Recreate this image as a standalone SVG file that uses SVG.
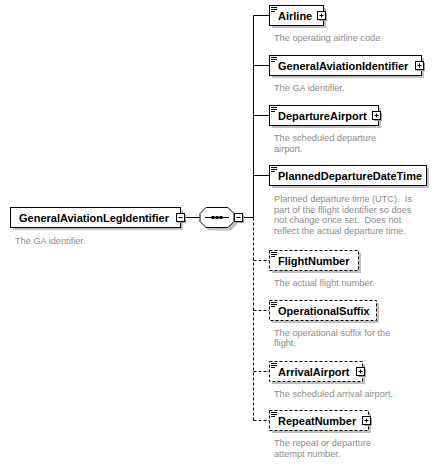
<svg xmlns="http://www.w3.org/2000/svg" width="443" height="464" viewBox="0 0 443 464">
<style>
.bg{fill:#fff}
.sh{fill:#c0c0c0}
.bsh{fill:#9a9a9a}
.box{fill:#fff;stroke:#000;stroke-width:1}
.opt{stroke-dasharray:3,2}
.btn{fill:#fff;stroke:#000;stroke-width:1}
.ln{fill:none;stroke:#000;stroke-width:1}
.dl{fill:none;stroke:#000;stroke-width:1;stroke-dasharray:3,2}
.lbl{font-family:"Liberation Sans",Arial,sans-serif;font-size:11px;font-weight:bold;fill:#000}
.desc{font-family:"Liberation Sans",Arial,sans-serif;font-size:9.2px;fill:#8c8c8c;white-space:pre}
</style>
<rect class="bg" x="0" y="0" width="443" height="464"/>

<g id="connectors">
  <path class="ln" d="M184.5,217.5H200"/>
  <path class="ln" d="M242.5,217.5H253.5"/>
  <path class="ln" d="M253.5,15.5V217.5"/>
  <path class="dl" d="M253.5,217.5V420.5"/>
  <path class="ln" d="M253.5,15.5H269.5M253.5,65.5H269.5M253.5,115.5H269.5M253.5,175.5H269.5"/>
  <path class="dl" d="M253.5,260.5H269.5M253.5,310.5H269.5M253.5,371.5H269.5M253.5,420.5H269.5"/>
</g>

<g id="GeneralAviationLegIdentifier">
  <rect class="sh" x="13" y="210" width="170" height="20"/>
  <rect class="box" x="10.5" y="207.5" width="170" height="20"/>
  <text class="lbl" x="19" y="222">GeneralAviationLegIdentifier</text>
  <rect class="bsh" x="178" y="215" width="8" height="8"/>
  <rect class="btn" x="176.5" y="213.5" width="8" height="8"/>
  <path class="ln" d="M178.5,217.5H182.5"/>
  <text class="desc" x="15" y="243.5">The GA identifier.</text>
</g>

<g id="sequence">
  <polygon class="sh" points="209,210.5 231,210.5 237,216.5 237,224.5 231,230.5 209,230.5 203,224.5 203,216.5"/>
  <polygon class="box" points="206,207.5 228,207.5 234,213.5 234,221.5 228,227.5 206,227.5 200,221.5 200,213.5"/>
  <path class="ln" d="M205,217.5H229"/>
  <rect x="211.5" y="216" width="3" height="3" fill="#000"/>
  <rect x="215.5" y="216" width="3" height="3" fill="#000"/>
  <rect x="219.5" y="216" width="3" height="3" fill="#000"/>
  <rect class="bsh" x="236" y="215" width="8" height="8"/>
  <rect class="btn" x="234.5" y="213.5" width="8" height="8"/>
  <path class="ln" d="M236.5,217.5H240.5"/>
</g>

<g id="Airline">
  <rect class="sh" x="272" y="8" width="54" height="20"/>
  <rect class="box" x="269.5" y="5.5" width="54" height="20"/>
  <path class="ln" d="M271,7.5H277M271,9.5H277M271,11.5H275"/>
  <text class="lbl" x="278" y="20">Airline</text>
  <rect class="bsh" x="319" y="13" width="8" height="8"/>
  <rect class="btn" x="317.5" y="11.5" width="8" height="8"/>
  <path class="ln" d="M319.5,15.5H323.5M321.5,13.5V17.5"/>
  <text class="desc" x="274" y="41">The operating airline code.</text>
</g>

<g id="GeneralAviationIdentifier">
  <rect class="sh" x="272" y="58" width="152" height="20"/>
  <rect class="box" x="269.5" y="55.5" width="152" height="20"/>
  <path class="ln" d="M271,57.5H277M271,59.5H277M271,61.5H275"/>
  <text class="lbl" x="278" y="70">GeneralAviationIdentifier</text>
  <rect class="bsh" x="417" y="63" width="8" height="8"/>
  <rect class="btn" x="415.5" y="61.5" width="8" height="8"/>
  <path class="ln" d="M417.5,65.5H421.5M419.5,63.5V67.5"/>
  <text class="desc" x="274" y="91">The GA identifier.</text>
</g>

<g id="DepartureAirport">
  <rect class="sh" x="272" y="108" width="109" height="20"/>
  <rect class="box" x="269.5" y="105.5" width="109" height="20"/>
  <path class="ln" d="M271,107.5H277M271,109.5H277M271,111.5H275"/>
  <text class="lbl" x="278" y="120">DepartureAirport</text>
  <rect class="bsh" x="374" y="113" width="8" height="8"/>
  <rect class="btn" x="372.5" y="111.5" width="8" height="8"/>
  <path class="ln" d="M374.5,115.5H378.5M376.5,113.5V117.5"/>
  <text class="desc" x="274" y="141">The scheduled departure</text>
  <text class="desc" x="274" y="151.5">airport.</text>
</g>

<g id="PlannedDepartureDateTime">
  <rect class="sh" x="272" y="168" width="157" height="20"/>
  <rect class="box" x="269.5" y="165.5" width="157" height="20"/>
  <path class="ln" d="M271,167.5H277M271,169.5H277M271,171.5H275"/>
  <text class="lbl" x="278" y="180">PlannedDepartureDateTime</text>
  <text class="desc" x="274" y="202" xml:space="preserve">Planned departure time (UTC).  Is</text>
  <text class="desc" x="274" y="212.5">part of the fllight identifier so does</text>
  <text class="desc" x="274" y="223" xml:space="preserve">not change once set.  Does not</text>
  <text class="desc" x="274" y="233.5">reflect the actual departure time.</text>
</g>

<g id="FlightNumber">
  <rect class="sh" x="272" y="253" width="89" height="20"/>
  <rect class="box opt" x="269.5" y="250.5" width="89" height="20"/>
  <path class="ln" d="M271,252.5H277M271,254.5H277M271,256.5H275"/>
  <text class="lbl" x="278" y="265">FlightNumber</text>
  <text class="desc" x="274" y="286">The actual flight number.</text>
</g>

<g id="OperationalSuffix">
  <rect class="sh" x="272" y="303" width="107" height="20"/>
  <rect class="box opt" x="269.5" y="300.5" width="107" height="20"/>
  <path class="ln" d="M271,302.5H277M271,304.5H277M271,306.5H275"/>
  <text class="lbl" x="278" y="315">OperationalSuffix</text>
  <text class="desc" x="274" y="335.5">The operational suffix for the</text>
  <text class="desc" x="274" y="346">flight.</text>
</g>

<g id="ArrivalAirport">
  <rect class="sh" x="272" y="364" width="93" height="20"/>
  <rect class="box opt" x="269.5" y="361.5" width="93" height="20"/>
  <path class="ln" d="M271,363.5H277M271,365.5H277M271,367.5H275"/>
  <text class="lbl" x="278" y="376">ArrivalAirport</text>
  <rect class="bsh" x="358" y="369" width="8" height="8"/>
  <rect class="btn" x="356.5" y="367.5" width="8" height="8"/>
  <path class="ln" d="M358.5,371.5H362.5M360.5,369.5V373.5"/>
  <text class="desc" x="274" y="397">The scheduled arrival airport.</text>
</g>

<g id="RepeatNumber">
  <rect class="sh" x="272" y="413" width="99" height="20"/>
  <rect class="box opt" x="269.5" y="410.5" width="99" height="20"/>
  <path class="ln" d="M271,412.5H277M271,414.5H277M271,416.5H275"/>
  <text class="lbl" x="278" y="425">RepeatNumber</text>
  <rect class="bsh" x="364" y="418" width="8" height="8"/>
  <rect class="btn" x="362.5" y="416.5" width="8" height="8"/>
  <path class="ln" d="M364.5,420.5H368.5M366.5,418.5V422.5"/>
  <text class="desc" x="274" y="446">The repeat or departure</text>
  <text class="desc" x="274" y="456.5">attempt number.</text>
</g>
</svg>
